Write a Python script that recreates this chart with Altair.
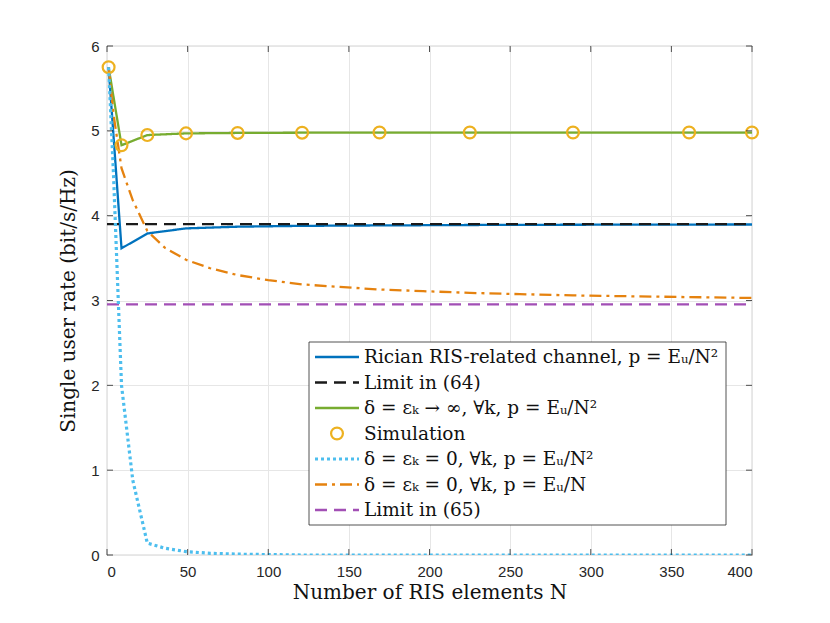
import altair as alt
import pandas as pd

# ---- data ----
N_main = [1, 9, 25, 49, 81, 121, 169, 225, 289, 361, 400]
rician = [5.75, 3.615, 3.79, 3.85, 3.87, 3.88, 3.885, 3.89, 3.893, 3.895, 3.896]
los_inf = [5.75, 4.83, 4.95, 4.97, 4.975, 4.978, 4.98, 4.98, 4.98, 4.98, 4.98]
sim_vals = [5.75, 4.83, 4.95, 4.97, 4.975, 4.978, 4.98, 4.98, 4.98, 4.98, 4.98]

N_zero2 = [1, 4, 9, 16, 25, 36, 49, 64, 81, 100, 121, 169, 225, 289, 361, 400]
zero_p2 = [5.75, 4.5, 2.0, 0.88, 0.14, 0.08, 0.04, 0.02, 0.01, 0.005, 0.0, 0.0, 0.0, 0.0, 0.0, 0.0]

N_zero1 = [1, 4, 9, 16, 25, 36, 49, 64, 81, 100, 121, 144, 169, 196, 225, 256, 289, 324, 361, 400]
zero_p1 = [5.75, 5.2, 4.56, 4.18, 3.82, 3.62, 3.48, 3.38, 3.30, 3.24, 3.19, 3.16, 3.13, 3.11,
           3.09, 3.075, 3.06, 3.05, 3.04, 3.03]

N_limits = [0, 400]
limit64 = 3.90
limit65 = 2.955

x_ticks = [0, 50, 100, 150, 200, 250, 300, 350, 400]
y_ticks = [0, 1, 2, 3, 4, 5, 6]

keys = ["rician", "lim64", "inf", "sim", "zero2", "zero1", "lim65"]
labels = [
    "Rician RIS-related channel, p = E\u1d64/N\u00b2",
    "Limit in (64)",
    "\u03b4 = \u03b5\u2096 \u2192 \u221e, \u2200k, p = E\u1d64/N\u00b2",
    "Simulation",
    "\u03b4 = \u03b5\u2096 = 0, \u2200k, p = E\u1d64/N\u00b2",
    "\u03b4 = \u03b5\u2096 = 0, \u2200k, p = E\u1d64/N",
    "Limit in (65)",
]
colors = ["#0072BD", "#1a1a1a", "#77AC30", "#EDB120", "#4DBEEE", "#E5820F", "#A24FB5"]
dashes = [[1, 0], [12, 7], [1, 0], [1, 0], [3, 3], [12, 5, 3, 5], [12, 7]]

# ---- build tables ----
rows = []
for n, v in zip(N_main, rician):
    rows.append({"s": "rician", "N": n, "v": v})
for n in N_limits:
    rows.append({"s": "lim64", "N": n, "v": limit64})
for n, v in zip(N_main, los_inf):
    rows.append({"s": "inf", "N": n, "v": v})
for n, v in zip(N_zero2, zero_p2):
    rows.append({"s": "zero2", "N": n, "v": v})
for n, v in zip(N_zero1, zero_p1):
    rows.append({"s": "zero1", "N": n, "v": v})
for n in N_limits:
    rows.append({"s": "lim65", "N": n, "v": limit65})
df_lines = pd.DataFrame(rows)
df_sim = pd.DataFrame({"s": "sim", "N": N_main, "v": sim_vals})
df_xt = pd.DataFrame({"t": x_ticks})
df_yt = pd.DataFrame({"t": y_ticks})
df_leg = pd.DataFrame({"row": list(range(7)), "s": keys, "label": labels})

W, H = 645, 509
color_scale = alt.Scale(domain=keys, range=colors)
dash_scale = alt.Scale(domain=keys, range=dashes)
xs = alt.Scale(domain=[0, 400], nice=False)
ys = alt.Scale(domain=[0, 6], nice=False)

serif = "DejaVu Serif"
sans = "Liberation Sans"

x_enc = alt.X("N:Q", scale=xs, axis=alt.Axis(
    values=x_ticks, format="d", title="Number of RIS elements N", grid=True, ticks=False, domain=False,
    labelFont=sans, labelFontSize=15, labelColor="#262626", labelPadding=9,
    titleFont=serif, titleFontSize=20, titleFontWeight="normal", titleColor="#111111",
    titlePadding=3, gridColor="#E6E6E6", gridWidth=1))
y_enc = alt.Y("v:Q", scale=ys, axis=alt.Axis(
    values=y_ticks, format="d", title="Single user rate (bit/s/Hz)", grid=True, ticks=False, domain=False,
    labelFont=sans, labelFontSize=15, labelColor="#262626", labelPadding=8,
    titleFont=serif, titleFontSize=20, titleFontWeight="normal", titleColor="#111111",
    titlePadding=12, gridColor="#E6E6E6", gridWidth=1))

col = alt.Color("s:N", scale=color_scale, legend=None)
dsh = alt.StrokeDash("s:N", scale=dash_scale, legend=None)

lines = alt.Chart(df_lines).transform_filter(alt.datum.s != "zero2").mark_line(
    clip=True, strokeWidth=2.3).encode(x=x_enc, y=y_enc, color=col, strokeDash=dsh)
dotted = alt.Chart(df_lines).transform_filter(alt.datum.s == "zero2").mark_line(
    clip=True, strokeWidth=3.2).encode(x=alt.X("N:Q", scale=xs), y=alt.Y("v:Q", scale=ys),
                                       color=col, strokeDash=dsh)
points = alt.Chart(df_sim).mark_point(filled=False, size=140, strokeWidth=2.2, opacity=1).encode(
    x=alt.X("N:Q", scale=xs), y=alt.Y("v:Q", scale=ys), color=col)
tick_color = "#262626"
xt_bottom = alt.Chart(df_xt).mark_rule(color=tick_color, strokeWidth=0.8).encode(
    x=alt.X("t:Q", scale=xs), y=alt.value(H), y2=alt.value(H - 6))
xt_top = alt.Chart(df_xt).mark_rule(color=tick_color, strokeWidth=0.8).encode(
    x=alt.X("t:Q", scale=xs), y=alt.value(0), y2=alt.value(6))
yt_left = alt.Chart(df_yt).mark_rule(color=tick_color, strokeWidth=0.8).encode(
    y=alt.Y("t:Q", scale=ys), x=alt.value(0), x2=alt.value(6))
yt_right = alt.Chart(df_yt).mark_rule(color=tick_color, strokeWidth=0.8).encode(
    y=alt.Y("t:Q", scale=ys), x=alt.value(W), x2=alt.value(W - 6))

main = alt.layer(lines, points, dotted, xt_bottom, xt_top, yt_left, yt_right)

# ---- legend ----
ly = alt.Y("row:O", scale=alt.Scale(type="point", domain=list(range(7)), range=[311, 464], padding=0), axis=None)
leg_box = alt.Chart(df_leg.head(1)).mark_rect(fill="white", stroke="#262626", strokeWidth=0.8).encode(
    x=alt.value(202), x2=alt.value(619), y=alt.value(296), y2=alt.value(479))
leg_lines = alt.Chart(df_leg).transform_filter(
    (alt.datum.s != "sim") & (alt.datum.s != "zero2")).mark_rule(strokeWidth=2.3).encode(
    x=alt.value(208), x2=alt.value(252), y=ly, color=col, strokeDash=dsh)
leg_dot = alt.Chart(df_leg).transform_filter(alt.datum.s == "zero2").mark_rule(strokeWidth=3.2).encode(
    x=alt.value(208), x2=alt.value(252), y=ly, color=col, strokeDash=dsh)
leg_pt = alt.Chart(df_leg).transform_filter(alt.datum.s == "sim").mark_point(
    filled=False, size=140, strokeWidth=2.2, opacity=1).encode(x=alt.value(230), y=ly, color=col)
leg_text = alt.Chart(df_leg).mark_text(align="left", baseline="middle", font=serif, fontSize=18.5,
                                       color="#111111").encode(
    x=alt.value(257), y=ly, text="label:N")
legend = alt.layer(leg_box, leg_lines, leg_dot, leg_pt, leg_text)

chart = alt.layer(main, legend).resolve_scale(y="independent").properties(
    width=W, height=H,
    padding={"left": 99, "top": 38, "right": 70, "bottom": 60},
    autosize=alt.AutoSizeParams(type="none"),
    background="white",
).configure_view(stroke="#262626", strokeWidth=0.9)

chart.save("out.html", embed_options={"renderer": "svg", "actions": False})
